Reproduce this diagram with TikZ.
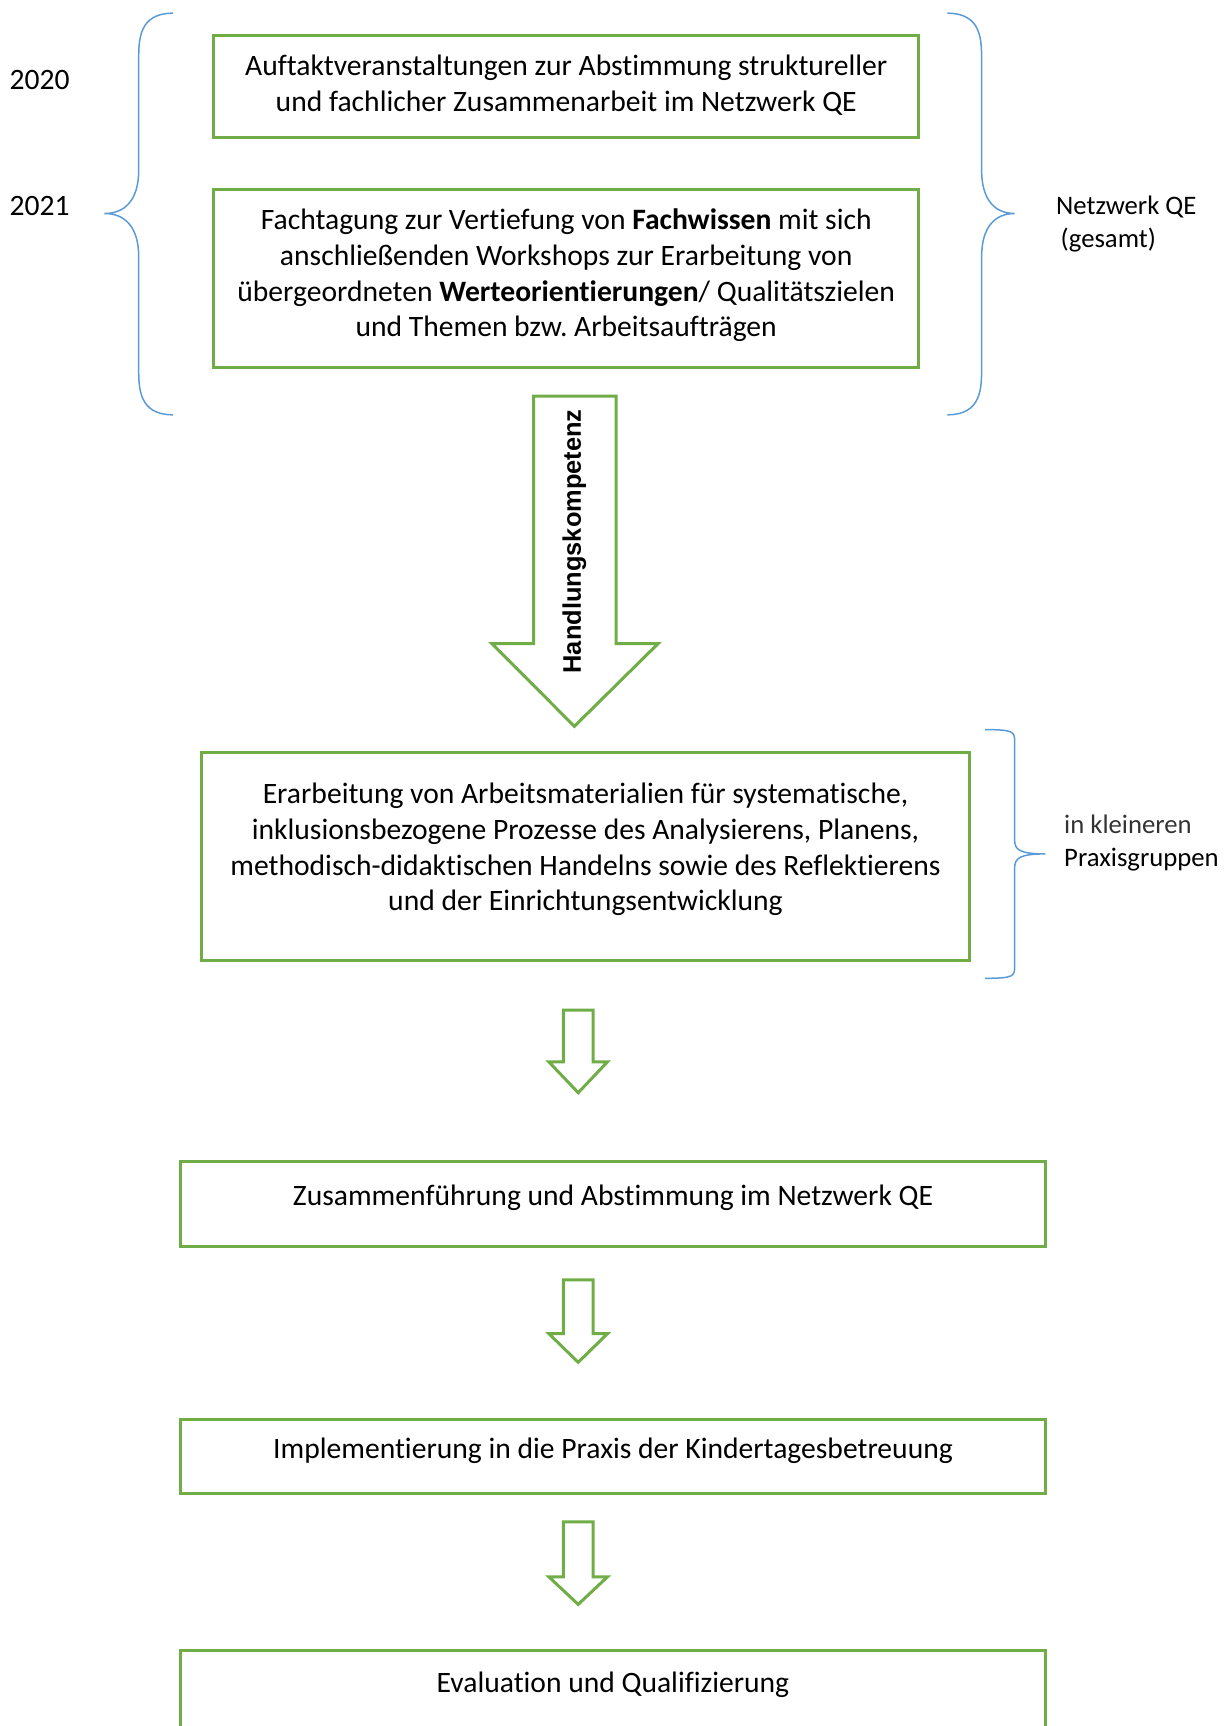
\documentclass[tikz,border=0pt]{standalone}
\usepackage{fontspec}
\setmainfont[RawFeature=-liga]{Carlito}
\newfontfamily\arialfont{Liberation Sans}
\definecolor{ogreen}{HTML}{70AD47}
\definecolor{oblue}{HTML}{5B9BD5}
\frenchspacing
\begin{document}
\begin{tikzpicture}[x=1pt,y=-1pt,
  gbox/.style={draw=ogreen,line width=3pt,minimum width=#1,inner sep=0pt},
  btext/.style={align=center,font=\fontsize{29.6}{35.6}\selectfont,inner sep=0pt},
  side/.style={align=left,font=\fontsize{26.7}{33}\selectfont,inner sep=0pt,anchor=west},
  garrow/.style={draw=ogreen,line width=3pt,fill=white,line join=miter},
  brace/.style={draw=oblue,line width=1.5pt}]
\useasboundingbox (0,0) rectangle (1228,1726);
\clip (0,0) rectangle (1228,1726);
% boxes
\node[gbox=705pt,minimum height=102pt] (b1) at (566.2,86.4) {};
\node[gbox=705pt,minimum height=178pt] (b2) at (566.2,278.4) {};
\node[gbox=768pt,minimum height=208pt] (b3) at (585.5,856.7) {};
\node[gbox=865pt,minimum height=85pt] (b4) at (613,1204.4) {};
\node[gbox=865pt,minimum height=74pt] (b5) at (613,1456.4) {};
\node[gbox=865pt,minimum height=140pt] (b6) at (613,1720.6) {};
% box texts
\node[btext] (t1) at (566.2,85) {Auftaktveranstaltungen zur Abstimmung struktureller\\und fachlicher Zusammenarbeit im Netzwerk QE};
\node[btext] (t2) at (566.2,275.5) {Fachtagung zur Vertiefung von \textbf{Fachwissen} mit sich\\anschließenden Workshops zur Erarbeitung von\\übergeordneten \textbf{Werteorientierungen}/ Qualitätszielen\\und Themen bzw. Arbeitsaufträgen};
\node[btext] (t3) at (585.5,849.5) {Erarbeitung von Arbeitsmaterialien für systematische,\\inklusionsbezogene Prozesse des Analysierens, Planens,\\methodisch-didaktischen Handelns sowie des Reflektierens\\und der Einrichtungsentwicklung};
\node[btext] (t4) at (613,1198) {Zusammenführung und Abstimmung im Netzwerk QE};
\node[btext] (t5) at (613,1451) {Implementierung in die Praxis der Kindertagesbetreuung};
\node[btext] (t6) at (613,1684.5) {Evaluation und Qualifizierung};
% year labels
\node[btext] (y20) at (39.6,79.5) {2020};
\node[btext] (y21) at (39.6,206) {2021};
% side labels
\node[side] (nq) at (1056,224) {Netzwerk QE\\\,(gesamt)};
\node[side] (pg) at (1064,843.5) {\color{black!80}in kleineren\\Praxisgruppen};
% big arrow
\draw[garrow] (533.7,396.1) -- (616.2,396.1) -- (616.2,643.7) -- (658,643.7) -- (574.4,726.3) -- (491.9,643.7) -- (533.7,643.7) -- cycle;
\node[rotate=90,inner sep=0pt,font=\arialfont\bfseries\fontsize{25.4}{30}\selectfont] (hk) at (574.4,541.4) {Handlungskompetenz};
% small arrows
\draw[garrow] (563.4,1010.2) -- (593.1,1010.2) -- (593.1,1061.9) -- (607.4,1061.9) -- (578.2,1092.7) -- (548.9,1061.9) -- (563.4,1061.9) -- cycle;
\draw[garrow] (563.4,1279.8) -- (593.1,1279.8) -- (593.1,1333.7) -- (607.4,1333.7) -- (578.2,1362.3) -- (548.9,1333.7) -- (563.4,1333.7) -- cycle;
\draw[garrow] (563.4,1521.9) -- (593.1,1521.9) -- (593.1,1576.9) -- (607.4,1576.9) -- (578.2,1604.4) -- (548.9,1576.9) -- (563.4,1576.9) -- cycle;
% braces
\coordinate (lbtip) at (104.5,213.5);
\draw[brace] (172.8,13.2) .. controls (138.7,13.2) and (138.7,40) .. (138.7,60) -- (138.7,170) .. controls (138.7,200) and (125,213.5) .. (lbtip) .. controls (125,213.5) and (138.7,227) .. (138.7,257) -- (138.7,368) .. controls (138.7,388) and (138.7,414.8) .. (172.8,414.8);
\coordinate (rbtip) at (1014.6,213.5);
\draw[brace] (947.4,13.2) .. controls (981.6,13.2) and (981.6,40) .. (981.6,60) -- (981.6,170) .. controls (981.6,200) and (995,213.5) .. (rbtip) .. controls (995,213.5) and (981.6,227) .. (981.6,257) -- (981.6,368) .. controls (981.6,388) and (981.6,414.8) .. (947.4,414.8);
\coordinate (pbtip) at (1045.4,853.9);
\draw[brace] (984.9,729.6) .. controls (1014.6,729.6) and (1014.6,732) .. (1014.6,742) -- (1014.6,840) .. controls (1014.6,850) and (1020,853.9) .. (pbtip) .. controls (1020,853.9) and (1014.6,858) .. (1014.6,868) -- (1014.6,966) .. controls (1014.6,976) and (1014.6,978.3) .. (984.9,978.3);
\end{tikzpicture}
\end{document}
